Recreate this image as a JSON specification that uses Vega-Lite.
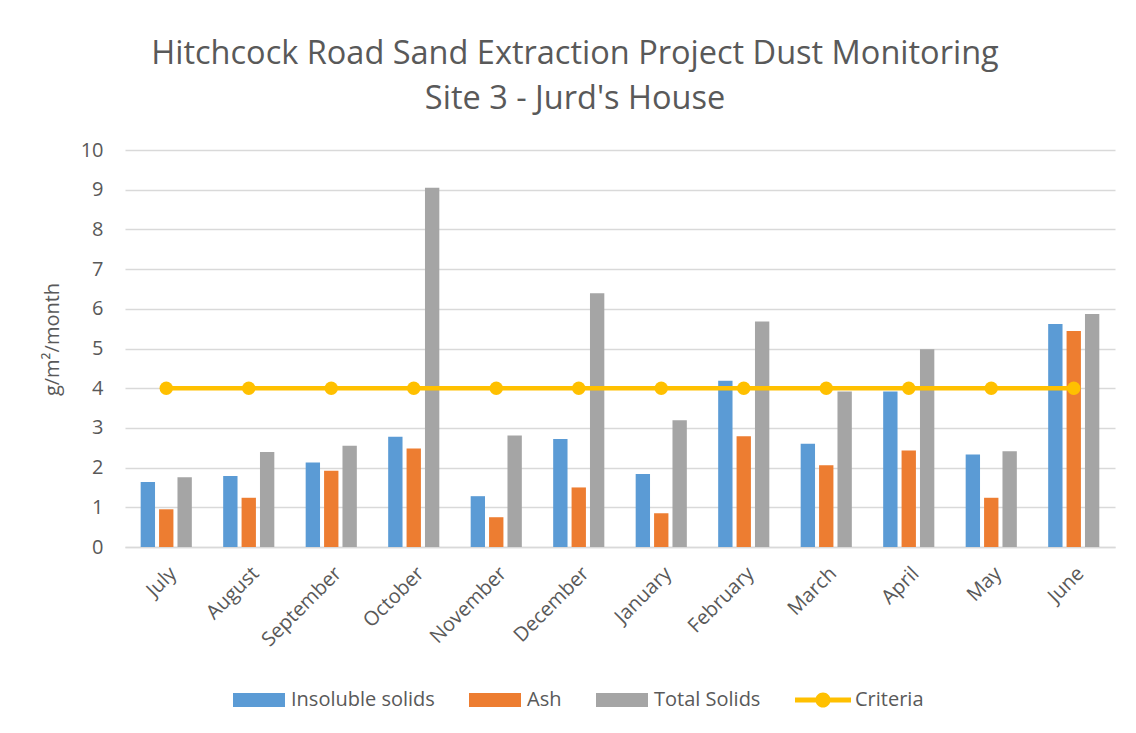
{
  "$schema": "https://vega.github.io/schema/vega-lite/v6.json",
  "width": 990,
  "height": 397,
  "autosize": "none",
  "padding": {"left": 125, "top": 150, "right": 21, "bottom": 186},
  "background": "white",
  "title": {
    "text": ["Hitchcock Road Sand Extraction Project Dust Monitoring", "Site 3 - Jurd's House"],
    "font": "Open Sans",
    "fontSize": 32.5,
    "fontWeight": "normal",
    "color": "#595959",
    "lineHeight": 45,
    "anchor": "middle",
    "dx": -45,
    "offset": 25
  },
  "config": {
    "font": "Open Sans",
    "view": {"stroke": null},
    "axis": {"labelColor": "#595959", "titleColor": "#595959", "labelFontSize": 20, "titleFontSize": 20, "titleFontWeight": "normal", "ticks": false}
  },
  "data": {
    "values": [
      {"month": "July", "series": "Insoluble solids", "value": 1.64},
      {"month": "July", "series": "Ash", "value": 0.95},
      {"month": "July", "series": "Total Solids", "value": 1.76},
      {"month": "August", "series": "Insoluble solids", "value": 1.79},
      {"month": "August", "series": "Ash", "value": 1.24},
      {"month": "August", "series": "Total Solids", "value": 2.39},
      {"month": "September", "series": "Insoluble solids", "value": 2.13},
      {"month": "September", "series": "Ash", "value": 1.92},
      {"month": "September", "series": "Total Solids", "value": 2.55},
      {"month": "October", "series": "Insoluble solids", "value": 2.78},
      {"month": "October", "series": "Ash", "value": 2.48},
      {"month": "October", "series": "Total Solids", "value": 9.05},
      {"month": "November", "series": "Insoluble solids", "value": 1.28},
      {"month": "November", "series": "Ash", "value": 0.75},
      {"month": "November", "series": "Total Solids", "value": 2.81},
      {"month": "December", "series": "Insoluble solids", "value": 2.72},
      {"month": "December", "series": "Ash", "value": 1.5},
      {"month": "December", "series": "Total Solids", "value": 6.39},
      {"month": "January", "series": "Insoluble solids", "value": 1.84},
      {"month": "January", "series": "Ash", "value": 0.85},
      {"month": "January", "series": "Total Solids", "value": 3.19},
      {"month": "February", "series": "Insoluble solids", "value": 4.19},
      {"month": "February", "series": "Ash", "value": 2.79},
      {"month": "February", "series": "Total Solids", "value": 5.68},
      {"month": "March", "series": "Insoluble solids", "value": 2.6},
      {"month": "March", "series": "Ash", "value": 2.06},
      {"month": "March", "series": "Total Solids", "value": 3.92},
      {"month": "April", "series": "Insoluble solids", "value": 3.92},
      {"month": "April", "series": "Ash", "value": 2.43},
      {"month": "April", "series": "Total Solids", "value": 4.98},
      {"month": "May", "series": "Insoluble solids", "value": 2.33},
      {"month": "May", "series": "Ash", "value": 1.24},
      {"month": "May", "series": "Total Solids", "value": 2.41},
      {"month": "June", "series": "Insoluble solids", "value": 5.62},
      {"month": "June", "series": "Ash", "value": 5.44},
      {"month": "June", "series": "Total Solids", "value": 5.87},
      {"month": "July", "series": "Criteria", "value": 4},
      {"month": "August", "series": "Criteria", "value": 4},
      {"month": "September", "series": "Criteria", "value": 4},
      {"month": "October", "series": "Criteria", "value": 4},
      {"month": "November", "series": "Criteria", "value": 4},
      {"month": "December", "series": "Criteria", "value": 4},
      {"month": "January", "series": "Criteria", "value": 4},
      {"month": "February", "series": "Criteria", "value": 4},
      {"month": "March", "series": "Criteria", "value": 4},
      {"month": "April", "series": "Criteria", "value": 4},
      {"month": "May", "series": "Criteria", "value": 4},
      {"month": "June", "series": "Criteria", "value": 4}
    ]
  },
  "encoding": {
    "x": {
      "field": "month",
      "type": "nominal",
      "sort": ["July", "August", "September", "October", "November", "December", "January", "February", "March", "April", "May", "June"],
      "scale": {"paddingInner": 0.38, "paddingOuter": 0.19},
      "axis": {"title": null, "labelAngle": -45, "domainColor": "#D9D9D9", "domainWidth": 1.5, "labelPadding": 16, "grid": false}
    },
    "y": {
      "field": "value",
      "type": "quantitative",
      "scale": {"domain": [0, 10]},
      "axis": {"title": "g/m²/month", "tickCount": 10, "domain": false, "gridColor": "#D9D9D9", "gridWidth": 1.5, "labelPadding": 22, "titlePadding": 18, "titleY": 189}
    }
  },
  "layer": [
    {
      "transform": [{"filter": "datum.series !== 'Criteria'"}],
      "mark": {"type": "bar"},
      "encoding": {
        "xOffset": {"field": "series", "type": "nominal", "sort": ["Insoluble solids", "Ash", "Total Solids"], "scale": {"paddingInner": 0.22}},
        "color": {
          "field": "series",
          "type": "nominal",
          "sort": ["Insoluble solids", "Ash", "Total Solids"],
          "scale": {"domain": ["Insoluble solids", "Ash", "Total Solids"], "range": ["#5B9BD5", "#ED7D31", "#A5A5A5"]},
          "legend": {
            "title": null,
            "orient": "none",
            "legendX": 108,
            "legendY": 524,
            "direction": "horizontal",
            "labelFont": "Open Sans",
            "labelFontSize": 20,
            "labelColor": "#595959",
            "symbolType": "M-1,-0.27 L1,-0.27 L1,0.27 L-1,0.27 Z",
            "symbolSize": 2704,
            "symbolStrokeWidth": 0,
            "columnPadding": 34,
            "labelOffset": 6
          }
        }
      }
    },
    {
      "transform": [{"filter": "datum.series === 'Criteria'"}],
      "mark": {"type": "line", "color": "#FFC000", "strokeWidth": 4.5, "point": {"size": 180, "filled": true, "color": "#FFC000"}},
      "encoding": {
        "color": {
          "field": "series",
          "type": "nominal",
          "scale": {"domain": ["Criteria"], "range": ["#FFC000"]},
          "legend": {
            "title": null,
            "orient": "none",
            "legendX": 670,
            "legendY": 522,
            "labelFont": "Open Sans",
            "labelFontSize": 20,
            "labelColor": "#595959",
            "symbolType": "M-1,-0.09 L1,-0.09 L1,0.09 L-1,0.09 Z M0.27,0 A0.27,0.27 0 1 1 -0.27,0 A0.27,0.27 0 1 1 0.27,0 Z",
            "symbolSize": 3136,
            "symbolStrokeWidth": 0,
            "labelOffset": 4
          }
        }
      }
    }
  ],
  "resolve": {"scale": {"color": "independent"}}
}
